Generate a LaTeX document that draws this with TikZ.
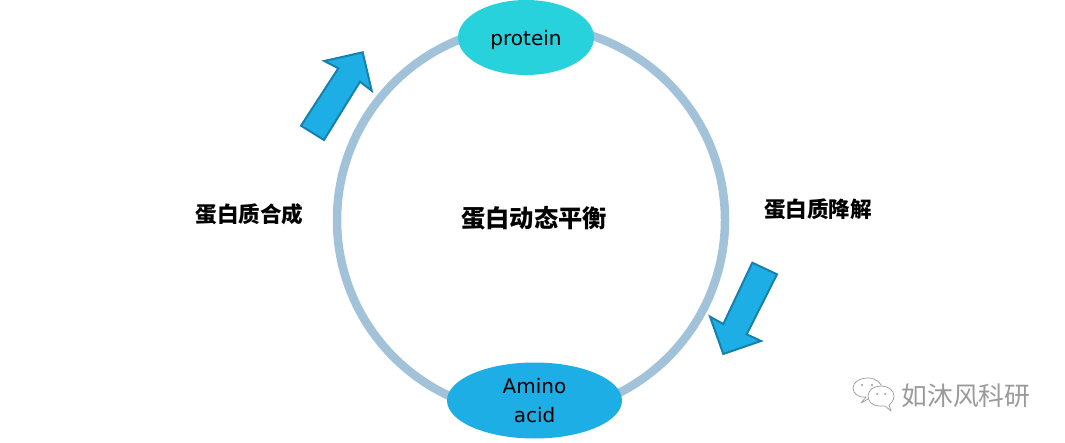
\documentclass[tikz,border=0pt]{standalone}
\usepackage{fontspec}
\setmainfont{DejaVu Sans}
\newfontfamily\cjk{Noto Sans CJK SC}
\usetikzlibrary{shapes.geometric}
\definecolor{ring}{HTML}{A2C2D9}
\definecolor{teal}{HTML}{27D2DC}
\definecolor{skyb}{HTML}{1EAEE6}
\definecolor{arrowedge}{HTML}{1581AC}
\definecolor{wm}{HTML}{9A9A9A}
\tikzset{
  ringline/.style={draw=ring,line width=8.5pt,circle,minimum size=388pt,inner sep=0pt},
  blob/.style={ellipse,inner sep=0pt,align=center,text=black,font=\fontsize{20}{29}\selectfont},
  bigarrow/.style={draw=arrowedge,fill=skyb,line width=2pt,line join=miter},
  cjklabel/.style={font=\cjk\bfseries\fontsize{#1}{#1}\selectfont,text=black,inner sep=0pt},
  wmbubble/.style={draw=wm,fill=white,line width=0.7pt,line join=round},
}
\begin{document}
\begin{tikzpicture}[x=1pt,y=-1pt]
\useasboundingbox (0,0) rectangle (1065,443);
\node[ringline] (ring) at (531,220) {};
\node[blob,fill=teal,minimum width=136pt,minimum height=75pt] (protein) at (526,37.5) {\smash{\raisebox{-8pt}{protein}}};
\node[blob,fill=skyb,minimum width=175pt,minimum height=76pt] (amino) at (534.5,400.5) {Amino\\acid};
\draw[bigarrow] (362.7,52.3) -- (371.7,90.7) -- (360,81.7) -- (324,140) -- (301,125.7) -- (338.3,68.3) -- (324.3,61) -- cycle;
\draw[bigarrow] (752.3,262.7) -- (777,274.3) -- (746.7,334.3) -- (761,341) -- (723.3,354) -- (710,316.7) -- (723.3,324) -- cycle;
\node[cjklabel=24.3] (center) at (534,218) {蛋白动态平衡};
\node[cjklabel=21.6] (synth) at (249.5,214) {蛋白质合成};
\node[cjklabel=21.6] (degr) at (818,209) {蛋白质降解};
% watermark
\draw[wmbubble] (866,397) .. controls (858,398) and (853,393) .. (853,388) .. controls (853,382) and (860,378) .. (868,378) .. controls (876,378) and (882,383) .. (882,389) .. controls (882,395) and (875,398) .. (870,398) -- (861,403) -- cycle;
\draw[wmbubble] (879,406) .. controls (872,406) and (868,401) .. (868,396) .. controls (868,390) and (874,386) .. (881,386) .. controls (888,386) and (894,390) .. (894,396) .. controls (894,401) and (890,404) .. (889,405) -- (891,411) -- (885,406) -- cycle;
\fill[wm] (862,385) circle (1.2pt) (872,385) circle (1.2pt) (877,394) circle (1pt) (885,394) circle (1pt);
\node[font=\cjk\fontsize{25.8}{25.8}\selectfont,text=wm,inner sep=0pt] (mark) at (966,396) {如沐风科研};
\end{tikzpicture}
\end{document}
